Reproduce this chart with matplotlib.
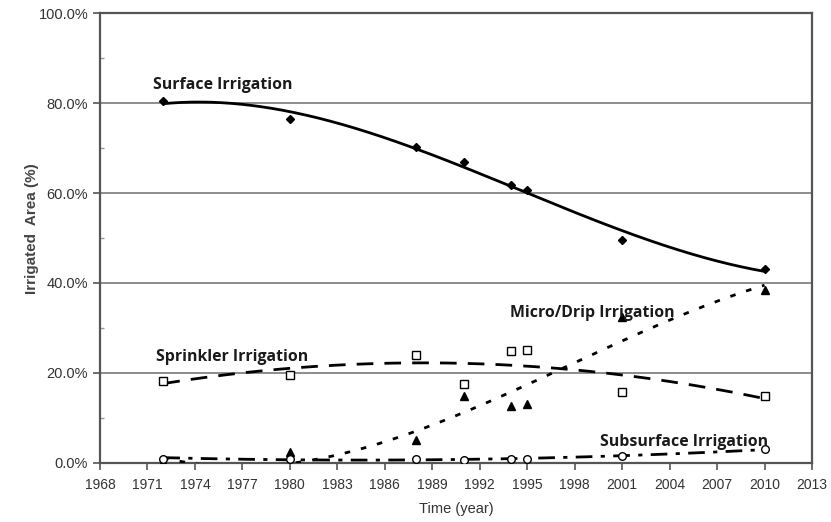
import numpy as np
import matplotlib
matplotlib.use("Agg")
import matplotlib.pyplot as plt
from matplotlib.ticker import FuncFormatter, MultipleLocator

years = [1972, 1980, 1988, 1991, 1994, 1995, 2001, 2010]
surface = [80.4, 76.4, 70.2, 66.9, 61.8, 60.7, 49.6, 43.1]
sprinkler = [18.2, 19.6, 24.0, 17.5, 24.9, 25.2, 15.8, 15.0]
micro = [0.3, 2.4, 5.1, 14.9, 12.7, 13.1, 32.4, 38.4]
subsurface = [1.0, 1.0, 1.0, 0.6, 0.8, 1.0, 1.5, 3.1]

x_ticks = list(range(1968, 2014, 3))
y_ticks = [0, 20, 40, 60, 80, 100]

fig = plt.figure(figsize=(8.31, 5.22), dpi=100)
ax = fig.add_axes([100/831, 59/522, 712/831, 450/522])

xs = np.linspace(min(years), max(years), 300)

def trend(y, deg):
    p = np.polyfit(years, y, deg)
    return np.polyval(p, xs)

# gridlines
for yt in [20, 40, 60, 80]:
    ax.axhline(yt, color="#8c8c8c", lw=1.4, zorder=1)

ax.plot(xs, trend(surface, 3), color="black", lw=2.0, zorder=3)
ax.plot(years, surface, linestyle="none", marker="D", ms=4, color="black", zorder=4)

ax.plot(xs, trend(sprinkler, 2), color="black", lw=2.0, dashes=(6, 4), zorder=3)
ax.plot(years, sprinkler, linestyle="none", marker="s", ms=6, mfc="white", mec="black", mew=1.0, zorder=4)

ax.plot(xs, trend(micro, 3), color="black", lw=2.0, dashes=(2, 4), zorder=3)
ax.plot(years, micro, linestyle="none", marker="^", ms=6, color="black", zorder=4)

ax.plot(xs, trend(subsurface, 2), color="black", lw=2.0, dashes=(6, 3, 1.5, 3), zorder=3)
ax.plot(years, subsurface, linestyle="none", marker="o", ms=5.5, mfc="white", mec="black", mew=1.0, zorder=4)

ax.set_xlim(1968, 2013)
ax.set_ylim(0, 100)
ax.set_xticks(x_ticks)
ax.set_yticks(y_ticks)
ax.yaxis.set_minor_locator(MultipleLocator(10))
ax.yaxis.set_major_formatter(FuncFormatter(lambda v, p: f"{v:.1f}%"))

for lab in ax.get_xticklabels():
    lab.set_fontfamily("Liberation Sans")
    lab.set_fontsize(10)
    lab.set_color("#333333")
for lab in ax.get_yticklabels():
    lab.set_fontfamily("Liberation Sans")
    lab.set_fontsize(10.5)
    lab.set_color("#333333")

ax.tick_params(axis="both", which="major", direction="out", length=5, width=1.2, color="#555555")
ax.tick_params(axis="y", which="minor", direction="in", length=3, width=1.0, color="#999999")
ax.tick_params(axis="x", pad=6)

for s in ax.spines.values():
    s.set_color("#555555")
    s.set_linewidth(1.6)

ax.set_ylabel("Irrigated  Area (%)", fontfamily="Liberation Sans", fontsize=11,
              fontweight="bold", color="#444444")
ax.yaxis.set_label_coords(-0.085, 0.52)
ax.set_xlabel("Time (year)", fontfamily="Liberation Sans", fontsize=10.5, color="#333333", labelpad=7)

lab_font = dict(family="Open Sans", weight="bold", size=11.4, color="#1a1a1a", zorder=5)
ax.text(1971.35, 84.0, "Surface Irrigation", ha="left", va="center", **lab_font)
ax.text(1971.55, 23.6, "Sprinkler Irrigation", ha="left", va="center", **lab_font)
ax.text(1993.9, 33.3, "Micro/Drip Irrigation", ha="left", va="center", **lab_font)
ax.text(1999.6, 4.7, "Subsurface Irrigation", ha="left", va="center", **lab_font)

fig.savefig("out.png", dpi=100, facecolor="white")
